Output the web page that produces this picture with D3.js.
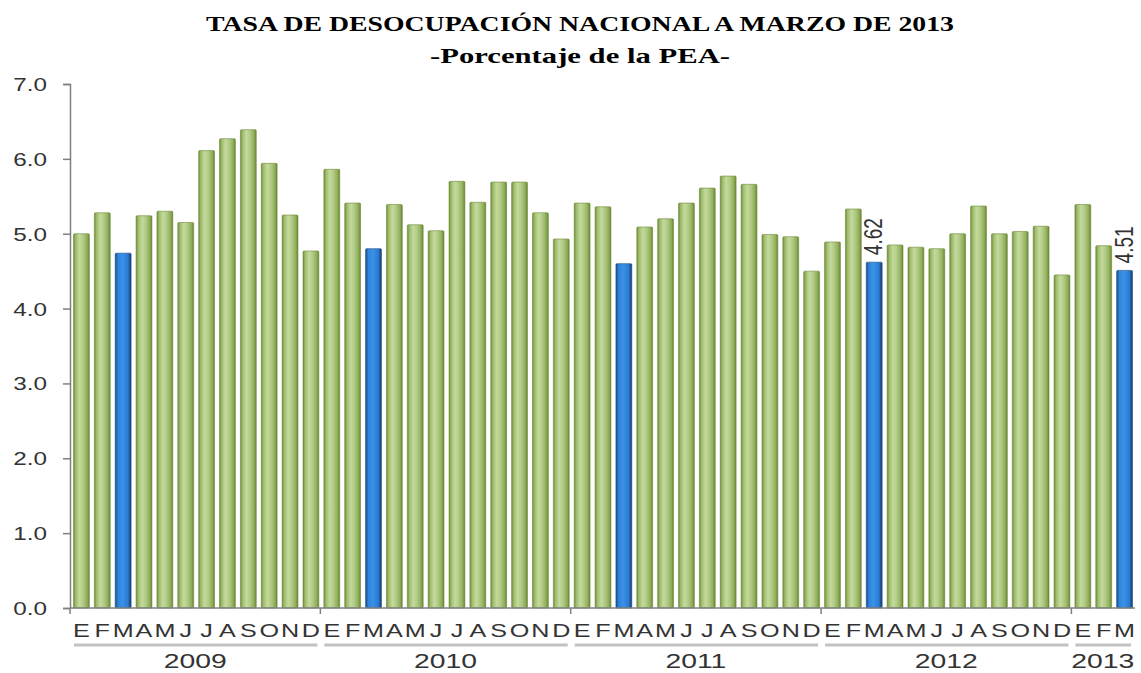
<!DOCTYPE html>
<html>
<head>
<meta charset="utf-8">
<script src="https://cdn.jsdelivr.net/npm/d3@7"></script>
<style>
  body { margin: 0; background: #fff; }
</style>
</head>
<body>
<svg id="svg_1"></svg>
<script>
var meses = ["E","F","M","A","M","J","J","A","S","O","N","D"];
var anios = ["2009","2010","2011","2012","2013"];
var tasa2009 = [5.00, 5.28, 4.74, 5.24, 5.30, 5.15, 6.11, 6.27, 6.39, 5.94, 5.25, 4.77];
var tasa2010 = [5.86, 5.41, 4.80, 5.39, 5.12, 5.04, 5.70, 5.42, 5.69, 5.69, 5.28, 4.93];
var tasa2011 = [5.41, 5.36, 4.60, 5.09, 5.20, 5.41, 5.61, 5.77, 5.66, 4.99, 4.96, 4.50];
var tasa2012 = [4.89, 5.33, 4.62, 4.85, 4.82, 4.80, 5.00, 5.37, 5.00, 5.03, 5.10, 4.45];
var tasa2013 = [5.39, 4.84, 4.51];
var yTicks = [0, 1, 2, 3, 4, 5, 6, 7];
// mes con barra azul (marzo) y barras con etiqueta
var indiceResaltado = 2;
var etiquetas = ["2012-2", "2013-2"];

var chart_width = 1141;
var chart_height = 673;

//------------------------------
// armar tabla plana a partir de los arreglos
var series = [tasa2009, tasa2010, tasa2011, tasa2012, tasa2013];
var data = [];
series.forEach(function(vals, k) {
    vals.forEach(function(v, m) {
        data.push({ anio: anios[k], mes: meses[m], m: m, key: anios[k] + "-" + m, value: v });
    });
});

var svg_1 = d3.select('#svg_1')
    .attr('width', chart_width)
    .attr('height', chart_height);

var defs = svg_1.append("defs");

function gradiente(id, stops) {
    var g = defs.append("linearGradient").attr("id", id)
        .attr("x1", "0%").attr("x2", "100%").attr("y1", "0%").attr("y2", "0%");
    stops.forEach(function(s) {
        g.append("stop").attr("offset", s[0]).attr("stop-color", s[1]);
    });
}
gradiente("verde", [["0%", "#6e8c34"], ["14%", "#a0bc6e"], ["38%", "#c4da9d"], ["62%", "#b0ca84"], ["86%", "#90ad59"], ["100%", "#67842f"]]);
gradiente("azul", [["0%", "#1a4c86"], ["18%", "#2f84dc"], ["45%", "#3b91e8"], ["80%", "#2a7bd3"], ["100%", "#15396a"]]);

// titulo
var titulo = [
    { text: "TASA DE DESOCUPACIÓN NACIONAL A MARZO DE 2013", y: 31, len: 748 },
    { text: "-Porcentaje de la PEA-", y: 63, len: 300 }
];
svg_1.selectAll(".titulo")
    .data(titulo)
    .enter()
    .append("text")
    .attr("x", 580)
    .attr("y", function(d) { return d.y; })
    .attr("text-anchor", "middle")
    .attr("textLength", function(d) { return d.len; })
    .attr("lengthAdjust", "spacingAndGlyphs")
    .style("font-family", "'Liberation Serif', 'Times New Roman', serif")
    .style("font-weight", "bold")
    .style("font-size", "22px")
    .text(function(d) { return d.text; });

//------------------------------
// escalas
var xScale = d3.scaleBand()
    .domain(data.map(function(d) { return d.key; }))
    .range([71, 1135])
    .paddingInner(0.24)
    .paddingOuter(0.12);

var yScale = d3.scaleLinear()
    .domain([0, 7])
    .range([608, 84]);

var step = xScale.step();
function borde(i) { return xScale.range()[0] + i * step - 1; }

var axisColor = "#7f7f7f";
var textColor = "#333333";
var stretch = 1.35;

// eje y
var yAxis = svg_1.append("g")
    .attr("transform", "translate(70,0)")
    .call(d3.axisLeft(yScale).tickValues(yTicks).tickFormat(d3.format(".1f")).tickSize(7));

yAxis.select(".domain").attr("stroke", axisColor).attr("stroke-width", 1.5);
yAxis.selectAll(".tick line").attr("stroke", axisColor).attr("stroke-width", 1.5);
yAxis.selectAll(".tick text")
    .attr("x", 0)
    .attr("dy", "0.36em")
    .attr("transform", "translate(-23,0) scale(" + stretch + ",1)")
    .attr("fill", textColor)
    .style("font-family", "'Liberation Sans', Arial, sans-serif")
    .style("font-size", "18px");

// barras
svg_1.append("g")
    .selectAll("rect")
    .data(data)
    .enter()
    .append("rect")
    .attr("x", function(d) { return xScale(d.key); })
    .attr("y", function(d) { return yScale(d.value); })
    .attr("width", xScale.bandwidth())
    .attr("height", function(d) { return yScale(0) - yScale(d.value); })
    .attr("rx", 1)
    .attr("fill", function(d) { return (d.m == indiceResaltado) ? "url(#azul)" : "url(#verde)"; })
    .attr("stroke", function(d) { return (d.m == indiceResaltado) ? "#1b4a80" : "#6f8c3a"; })
    .attr("stroke-width", 0.6);

// etiquetas de valor (rotadas)
svg_1.append("g")
    .selectAll("text")
    .data(data.filter(function(d) { return etiquetas.indexOf(d.key) >= 0; }))
    .enter()
    .append("text")
    .attr("transform", function(d) {
        var cx = xScale(d.key) + xScale.bandwidth() / 2 + 8;
        var cy = yScale(d.value) - 7;
        return "translate(" + cx + "," + cy + ") scale(" + stretch + ",1) rotate(-90)";
    })
    .attr("fill", textColor)
    .style("font-family", "'Liberation Sans', Arial, sans-serif")
    .style("font-size", "19px")
    .text(function(d) { return d3.format(".2f")(d.value); });

// eje x
var xAxis = svg_1.append("g");
xAxis.append("line")
    .attr("x1", 70).attr("x2", xScale.range()[1])
    .attr("y1", yScale(0)).attr("y2", yScale(0))
    .attr("stroke", axisColor).attr("stroke-width", 1.5);

// limites de anio
var inicios = [];
anios.forEach(function(a, k) {
    var i0 = k * 12;
    inicios.push({ anio: a, x0: borde(i0), x1: borde(i0 + series[k].length) });
});

xAxis.selectAll(".yeartick")
    .data(inicios)
    .enter()
    .append("line")
    .attr("x1", function(d) { return d.x0; })
    .attr("x2", function(d) { return d.x0; })
    .attr("y1", yScale(0))
    .attr("y2", yScale(0) + 6)
    .attr("stroke", axisColor)
    .attr("stroke-width", 1.5);

// letras de mes
xAxis.selectAll(".mes")
    .data(data)
    .enter()
    .append("text")
    .attr("transform", function(d) {
        return "translate(" + (xScale(d.key) + xScale.bandwidth() / 2) + ",637) scale(1.4,1)";
    })
    .attr("text-anchor", "middle")
    .attr("fill", textColor)
    .style("font-family", "'Liberation Sans', Arial, sans-serif")
    .style("font-size", "18px")
    .text(function(d) { return d.mes; });

// subrayado por anio
xAxis.selectAll(".sub")
    .data(inicios)
    .enter()
    .append("line")
    .attr("x1", function(d) { return d.x0 + 4; })
    .attr("x2", function(d) { return d.x1 - 3; })
    .attr("y1", 645)
    .attr("y2", 645)
    .attr("stroke", "#c2c2c2")
    .attr("stroke-width", 3);

// anios
xAxis.selectAll(".anio")
    .data(inicios)
    .enter()
    .append("text")
    .attr("transform", function(d) {
        return "translate(" + ((d.x0 + d.x1) / 2) + ",668) scale(" + stretch + ",1)";
    })
    .attr("text-anchor", "middle")
    .attr("fill", textColor)
    .style("font-family", "'Liberation Sans', Arial, sans-serif")
    .style("font-size", "21px")
    .text(function(d) { return d.anio; });
</script>
</body>
</html>
